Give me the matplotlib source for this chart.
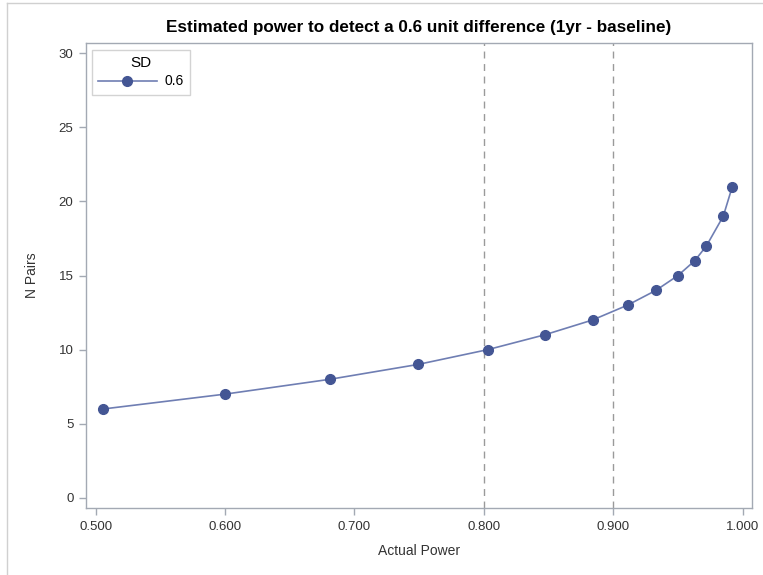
import matplotlib.pyplot as plt
from matplotlib.lines import Line2D

plt.rcParams['font.family'] = ['Liberation Sans', 'DejaVu Sans']

# data
n_pairs = [6, 7, 8, 9, 10, 11, 12, 13, 14, 15, 16, 17, 19, 21]
power = [0.506, 0.600, 0.681, 0.749, 0.803, 0.847, 0.884,
         0.911, 0.933, 0.950, 0.963, 0.972, 0.985, 0.992]
ref_lines = [0.8, 0.9]
sd_label = '0.6'

xticks = [0.5, 0.6, 0.7, 0.8, 0.9, 1.0]
yticks = [0, 5, 10, 15, 20, 25, 30]

line_col = '#6f7eb3'
mark_col = '#445694'
frame_col = '#a3a9b3'
text_col = '#333333'

fig = plt.figure(figsize=(7.63, 5.75), dpi=100)
W, H = 763, 575
ax = fig.add_axes([86 / W, 1 - 508 / H, (752 - 86) / W, (508 - 43) / H])

for xv in ref_lines:
    ax.axvline(xv, color='#9a9a9a', lw=1, ls=(0, (5, 4)), zorder=1)

ax.plot(power, n_pairs, color=line_col, lw=1.2, marker='o', ms=7,
        mfc=mark_col, mec=mark_col, zorder=3)

ax.set_xlim(0.4925, 1.0072)
ax.set_ylim(-0.68, 30.68)
ax.set_xticks(xticks)
ax.set_xticklabels(['%.3f' % v for v in xticks])
ax.set_yticks(yticks)

for s in ax.spines.values():
    s.set_color(frame_col)
    s.set_linewidth(1)
ax.tick_params(colors=frame_col, labelcolor=text_col, labelsize=9.5,
               length=5, width=1, pad=4)

ax.set_xlabel('Actual Power', fontsize=10, color=text_col, labelpad=8)
ax.set_ylabel('N Pairs', fontsize=10, color=text_col, labelpad=14)
ax.set_title('Estimated power to detect a 0.6 unit difference (1yr - baseline)',
             fontsize=12.3, fontweight='bold', pad=8)

handle = Line2D([], [], color=line_col, lw=1.2, marker='o', ms=7,
                mfc=mark_col, mec=mark_col)
leg = ax.legend([handle], [sd_label], title='SD', loc='upper left',
                bbox_to_anchor=(6 / 666, 1 - 7 / 465), fontsize=10,
                title_fontsize=11, frameon=True, fancybox=False,
                edgecolor='#c8c8c8', handlelength=4.2, borderaxespad=0,
                borderpad=0.45, handletextpad=0.6, labelspacing=0.3)
leg.get_frame().set_linewidth(1)

# light outer border of the graph area
fig.add_artist(Line2D([7 / W, 7 / W], [0, 1 - 3 / H], color='#d0d0d0',
                      lw=1, transform=fig.transFigure))
fig.add_artist(Line2D([7 / W, 1], [1 - 3 / H, 1 - 3 / H], color='#d0d0d0',
                      lw=1, transform=fig.transFigure))

fig.savefig('out.png', dpi=100)
